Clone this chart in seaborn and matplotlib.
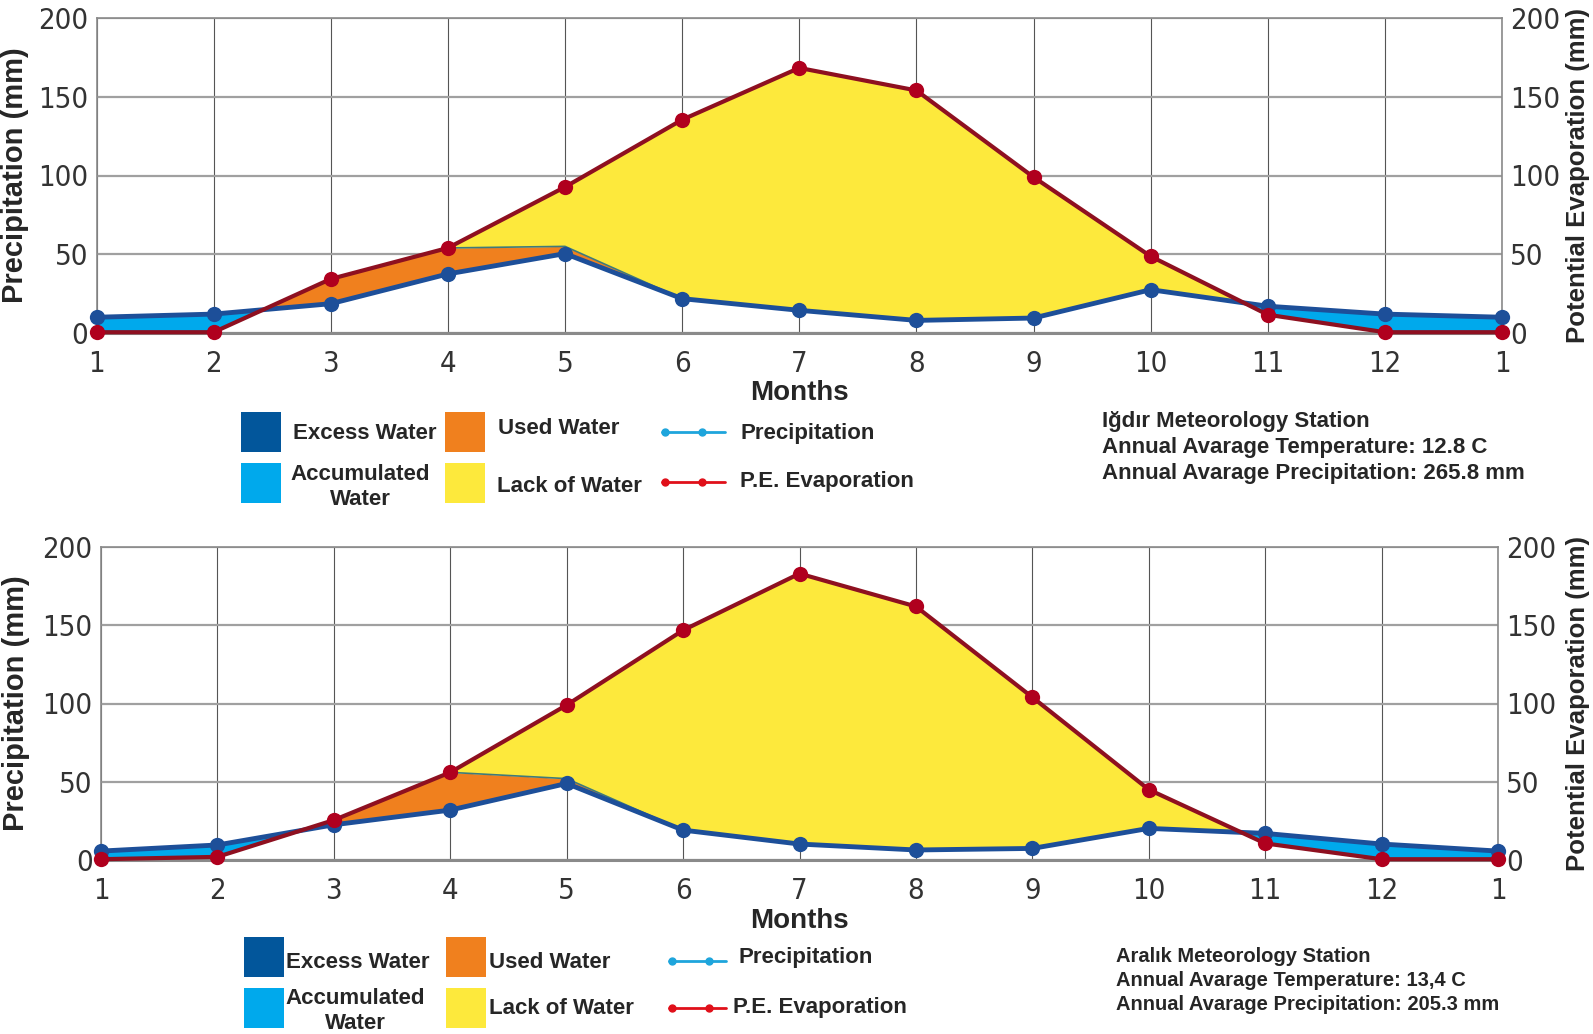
import numpy as np
import matplotlib
matplotlib.use("Agg")
import matplotlib.pyplot as plt
from matplotlib import font_manager
from matplotlib.patches import Rectangle
from matplotlib.lines import Line2D
import seaborn as sns

# ---- data ----
months = np.arange(1, 14)
month_labels = ['1', '2', '3', '4', '5', '6', '7', '8', '9', '10', '11', '12', '1']

# Igdir station
igdir_precip = [10, 12, 18.6, 37.5, 50.4, 21.8, 14.4, 8, 9.5, 27.5, 17, 12, 10]
igdir_pet = [0.5, 0.5, 34.3, 54, 92.7, 135.4, 168.3, 154, 99, 48.7, 11.6, 0.5, 0.5]
igdir_used_peak = 55   # upper limit of used water in month 5
igdir_info = ["Iğdır Meteorology Station",
              "Annual Avarage Temperature: 12.8 C",
              "Annual Avarage Precipitation: 265.8 mm"]

# Aralik station
aralik_precip = [5.7, 9.6, 22.5, 31.9, 48.9, 19.1, 10.2, 6.4, 7.4, 20.2, 17, 10.2, 5.7]
aralik_pet = [0.5, 2, 25.5, 56, 99, 146.8, 183, 162, 104, 45, 10.6, 0.5, 0.5]
aralik_used_peak = 52
aralik_info = ["Aralık Meteorology Station",
               "Annual Avarage Temperature: 13,4 C",
               "Annual Avarage Precipitation: 205.3 mm"]

# colours
c_excess = '#02569b'
c_accum = '#00a9ec'
c_used = '#f0801e'
c_lack = '#fde93c'
c_p_line = '#1d4f99'
c_pe_line = '#8e1020'
c_pe_marker = '#b0001e'

W, H = 1593, 1034
sns.set_style("white")
plt.rcParams['font.family'] = ['Liberation Sans', 'DejaVu Sans']

# narrow font for the tick numbers, whatever is installed
fonts = {(f.name, f.stretch) for f in font_manager.fontManager.ttflist}
names = {n for n, _ in fonts}
if 'Liberation Sans Narrow' in names:
    tick_kw = dict(family='Liberation Sans Narrow', size=24)
elif any(n == 'DejaVu Sans' and s == 'condensed' for n, s in fonts):
    tick_kw = dict(family='DejaVu Sans', stretch='condensed', size=21)
elif 'Roboto Condensed' in names:
    tick_kw = dict(family='Roboto Condensed', size=23)
else:
    tick_kw = dict(family='Roboto', weight='light', size=21)

fig = plt.figure(figsize=(W / 100, H / 100), dpi=100)


def fx(x):
    return x / W


def fy(y):
    return 1 - y / H


def panel(rect, precip, pet, used_peak, lab_x, months_y):
    ax = fig.add_axes(rect)
    p = np.array(precip, dtype=float)
    e = np.array(pet, dtype=float)
    # ceiling of the used-water zone: PE until month 4, soil limit in month 5, then P
    ceil = np.where(months < 5, e, p)
    ceil[4] = used_peak

    ax.fill_between(months, e, p, where=p > e, interpolate=True,
                    color=c_accum, lw=0, zorder=1.5)
    ax.fill_between(months, p, ceil, where=(ceil > p) & (months <= 5),
                    interpolate=True, color=c_used, lw=0, zorder=1.5)
    ax.fill_between(months, ceil, e, where=e > ceil, interpolate=True,
                    color=c_lack, lw=0, zorder=1.5)
    ax.plot(months[3:6], ceil[3:6], color='#3f7a7a', lw=1.2, zorder=1.8)

    sns.lineplot(x=months, y=p, ax=ax, color=c_p_line, lw=3.5, marker='o',
                 markersize=11, markeredgewidth=0, zorder=3)
    sns.lineplot(x=months, y=e, ax=ax, color=c_pe_line, lw=3, marker='o',
                 markersize=11, markeredgewidth=0, markerfacecolor=c_pe_marker,
                 zorder=4)
    for ln in ax.lines:
        ln.set_clip_on(False)

    ax.set_xlim(1, 13)
    ax.set_ylim(0, 200)
    ax.set_xticks(months)
    ax.set_xticklabels(month_labels)
    ax.set_yticks([0, 50, 100, 150, 200])
    ax.set_axisbelow(True)
    ax.xaxis.grid(True, color='#555555', lw=0.8, zorder=0.5)
    ax.yaxis.grid(True, color='#a0a0a0', lw=1.6, zorder=0.5)
    for s in ax.spines.values():
        s.set_color('#8a8a8a')
        s.set_linewidth(1.2)
    ax.spines['bottom'].set_linewidth(2.2)
    ax.tick_params(axis='both', length=0, labelcolor='#333333')
    ax.tick_params(axis='x', pad=12)
    ax.tick_params(axis='y', pad=6)
    for lab in ax.get_xticklabels() + ax.get_yticklabels():
        lab.set(**tick_kw)
    ax.set_xlabel('Months', fontsize=20, fontweight='bold')
    ax.xaxis.set_label_coords(0.5, months_y)
    ax.set_ylabel('Precipitation (mm)', fontsize=21, fontweight='bold')
    ax.yaxis.set_label_coords(lab_x[0], 0.5)

    ax2 = ax.twinx()
    ax2.set_ylim(0, 200)
    ax2.set_yticks([0, 50, 100, 150, 200])
    ax2.tick_params(axis='y', length=0, labelcolor='#333333', pad=6)
    for lab in ax2.get_yticklabels():
        lab.set(**tick_kw)
    for s in ax2.spines.values():
        s.set_visible(False)
    ax2.set_ylabel('Potential Evaporation (mm)', fontsize=18.5, fontweight='bold')
    ax2.yaxis.set_label_coords(lab_x[1], 0.5)
    return ax


def legend_block(sq_x, sq_y, line_x, txt, info, info_xy, info_size):
    size = 40
    for (x, y), col in zip([(sq_x[0], sq_y[0]), (sq_x[0], sq_y[1]),
                            (sq_x[1], sq_y[0]), (sq_x[1], sq_y[1])],
                           [c_excess, c_accum, c_used, c_lack]):
        fig.add_artist(Rectangle((fx(x), fy(y + size)), size / W, size / H,
                                 transform=fig.transFigure, color=col, lw=0))
    kw = dict(fontsize=16, fontweight='bold', va='center', transform=fig.transFigure)
    for t, x, y, ha in txt:
        fig.text(fx(x), fy(y), t, ha=ha, linespacing=1.2, **kw)
    for (x0, x1, y), col in zip(line_x, ['#1ea5dc', '#e0101a']):
        fig.add_artist(Line2D([fx(x0), fx(x1)], [fy(y), fy(y)],
                              transform=fig.transFigure, color=col, lw=2))
        fig.add_artist(Line2D([fx(x0 + 3), fx(x0 + 40)], [fy(y), fy(y)],
                              transform=fig.transFigure, color=col, lw=0,
                              marker='o', markersize=5))
    ix, iy, dy = info_xy
    for i, t in enumerate(info):
        fig.text(fx(ix), fy(iy + i * dy), t, fontsize=info_size, fontweight='bold',
                 va='center', transform=fig.transFigure)


panel([fx(96.5), fy(333), fx(1502) - fx(96.5), (333 - 18) / H],
      igdir_precip, igdir_pet, igdir_used_peak, (-0.048, 1.0455), -0.149)
panel([fx(101), fy(860), fx(1498) - fx(101), (860 - 547) / H],
      aralik_precip, aralik_pet, aralik_used_peak, (-0.051, 1.0487), -0.153)

legend_block((241, 445), (412, 463),
             [(662, 725, 432), (662, 725, 482)],
             [('Excess Water', 293, 434, 'left'),
              ('Accumulated\nWater', 360, 487, 'center'),
              ('Used Water', 498, 428, 'left'),
              ('Lack of Water', 497, 487, 'left'),
              ('Precipitation', 740, 433, 'left'),
              ('P.E. Evaporation', 740, 481, 'left')],
             igdir_info, (1102, 422, 26), 16)

legend_block((244, 446), (937, 988),
             [(669, 726, 961), (669, 726, 1008)],
             [('Excess Water', 286, 962, 'left'),
              ('Accumulated\nWater', 355, 1011, 'center'),
              ('Used Water', 489, 962, 'left'),
              ('Lack of Water', 489, 1008, 'left'),
              ('Precipitation', 738, 958, 'left'),
              ('P.E. Evaporation', 733, 1007, 'left')],
             aralik_info, (1116, 957, 23.5), 14.5)

fig.savefig('out.png', dpi=100)
